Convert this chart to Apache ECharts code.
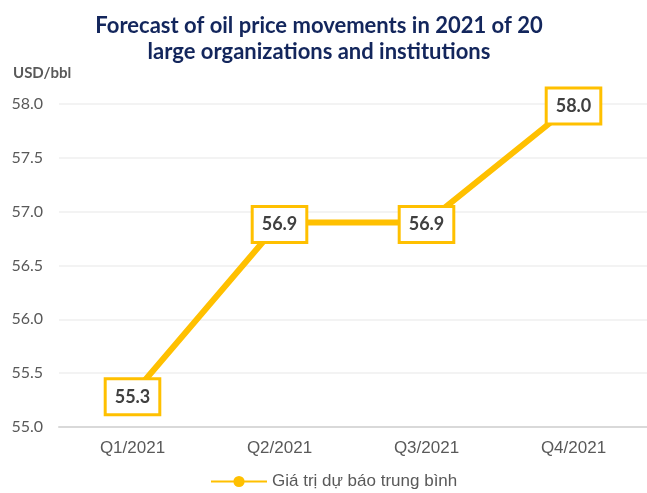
<!DOCTYPE html>
<html>
<head>
<meta charset="utf-8">
<script src="https://cdn.jsdelivr.net/npm/echarts@6/dist/echarts.min.js"></script>
<style>
html, body { margin: 0; padding: 0; background: #fff; }
#main { width: 647px; height: 493px; }
</style>
</head>
<body>
<div id="main"></div>
<script>
// du lieu doc tu hinh
var quarters = ['Q1/2021', 'Q2/2021', 'Q3/2021', 'Q4/2021'];
var avgForecast = [55.3, 56.9, 56.9, 58.0];
var seriesName = 'Giá trị dự báo trung bình';

var gold = '#FFC000';

var chart = echarts.init(document.getElementById('main'));
var option = {
    animation: false,
    title: [{
        text: 'Forecast of oil price movements in 2021 of 20\nlarge organizations and institutions',
        left: 314,
        textAlign: 'center',
        top: 8,
        textStyle: {
            color: '#13265C',
            fontFamily: 'Lato',
            fontWeight: 'bold',
            fontSize: 22,
            lineHeight: 26
        }
    }, {
        text: 'USD/bbl',
        left: 8,
        top: 61,
        textStyle: {
            color: '#595959',
            fontFamily: 'Lato',
            fontWeight: 'bold',
            fontSize: 15
        }
    }],
    legend: {
        data: [seriesName],
        left: 205,
        bottom: -2,
        itemWidth: 56,
        itemHeight: 14,
        itemGap: 4,
        textStyle: {
            color: '#595959',
            fontFamily: 'Liberation Sans',
            fontSize: 17
        }
    },
    grid: {
        left: 59,
        right: -6,
        top: 104,
        bottom: 66
    },
    xAxis: {
        type: 'category',
        data: quarters,
        boundaryGap: true,
        axisTick: { show: false },
        axisLine: { lineStyle: { color: '#d9d9d9', width: 2 } },
        axisLabel: {
            color: '#595959',
            fontFamily: 'Liberation Sans',
            fontSize: 17,
            margin: 13
        }
    },
    yAxis: {
        type: 'value',
        min: 55,
        max: 58,
        interval: 0.5,
        axisLine: { show: false },
        axisTick: { show: false },
        splitLine: { lineStyle: { color: '#efefef', width: 1.5 } },
        axisLabel: {
            color: '#595959',
            fontFamily: 'Lato',
            fontSize: 16,
            margin: 16,
            formatter: function (v) { return v.toFixed(1); }
        }
    },
    series: [{
        name: seriesName,
        type: 'line',
        data: avgForecast,
        symbol: 'circle',
        symbolSize: 8,
        lineStyle: { color: gold, width: 6 },
        itemStyle: { color: gold },
        label: {
            show: true,
            position: 'inside',
            offset: [0, 2],
            formatter: function (p) { return p.value.toFixed(1); },
            color: '#404040',
            fontFamily: 'Lato',
            fontWeight: 'bold',
            fontSize: 18,
            backgroundColor: '#fff',
            borderColor: gold,
            borderWidth: 3,
            padding: [8, 8, 7, 8]
        }
    }]
};
chart.setOption(option);
</script>
</body>
</html>
